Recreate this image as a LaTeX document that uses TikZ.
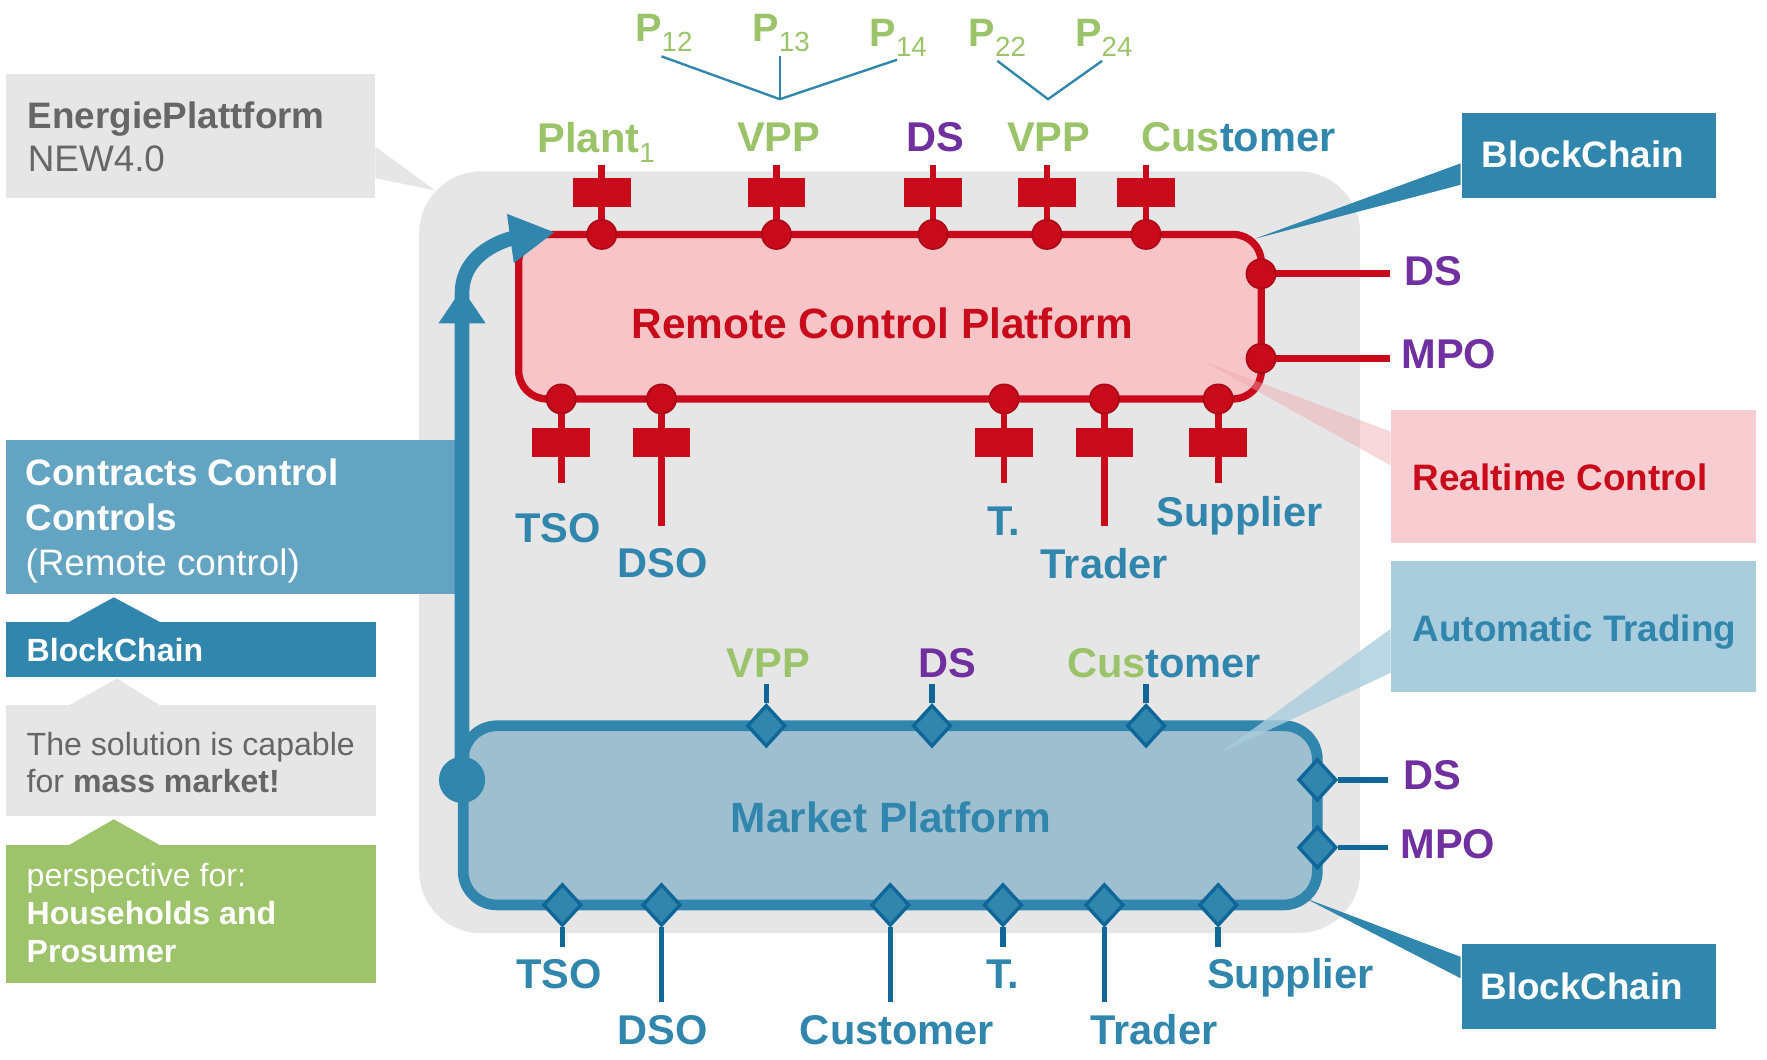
\documentclass[tikz,border=0pt]{standalone}
\usepackage{fontspec}
\setmainfont{Liberation Sans}
\usepackage{tikz}
\usetikzlibrary{shapes,positioning,calc}
\usetikzlibrary{shapes.geometric, arrows}
\usetikzlibrary{arrows.meta}

\definecolor{nblue}{HTML}{3186AD}
\definecolor{ndark}{HTML}{0E6699}
\definecolor{nmkt}{HTML}{9EBFD0}
\definecolor{ncontract}{HTML}{62A4C2}
\definecolor{nauto}{HTML}{A9CDDD}
\definecolor{nred}{HTML}{C80A1A}
\definecolor{npink}{HTML}{F7C4C8}
\definecolor{nrt}{HTML}{F7CDD1}
\definecolor{ngray}{HTML}{E6E6E6}
\definecolor{ntext}{HTML}{666666}
\definecolor{ngreen}{HTML}{9BC46A}
\definecolor{ngbox}{HTML}{9DC36B}
\definecolor{npurple}{HTML}{7030A0}

\tikzstyle{frame} = [rectangle, rounded corners=0.55cm, fill=ngray, minimum width=8.35cm, minimum height=6.76cm, inner sep=0pt]
\tikzstyle{box} = [rectangle, inner sep=0pt, outer sep=0pt]
\tikzstyle{platred} = [rectangle, rounded corners=0.25cm, minimum width=6.59cm, minimum height=1.46cm, draw=nred, fill=npink, line width=1.85pt, inner sep=0pt]
\tikzstyle{platblue} = [rectangle, rounded corners=0.3cm, minimum width=7.58cm, minimum height=1.59cm, draw=nblue, fill=nmkt, line width=2.7pt, inner sep=0pt]
\tikzstyle{rdot} = [circle, fill=nred, draw=nred!85!black, line width=0.4pt, minimum size=0.26cm, inner sep=0pt]
\tikzstyle{rsq} = [rectangle, fill=nred, minimum width=0.51cm, minimum height=0.26cm, inner sep=0pt]
\tikzstyle{rline} = [draw=nred, line width=1.7pt]
\tikzstyle{bdia} = [diamond, fill=nblue, draw=ndark, line width=0.85pt, minimum width=0.34cm, minimum height=0.37cm, inner sep=0pt]
\tikzstyle{bline} = [draw=ndark, line width=1.4pt]
\tikzstyle{pline} = [draw=nblue, line width=0.6pt]
\tikzstyle{lbl} = [font=\fontsize{10.5}{12}\selectfont\bfseries, inner sep=0pt, anchor=base]
\tikzstyle{lblw} = [font=\fontsize{10.5}{12}\selectfont\bfseries, inner sep=0pt, anchor=base west, text=npurple]
\tikzstyle{plbl} = [font=\fontsize{10}{12}\selectfont\bfseries, inner sep=0pt, anchor=base west, text=ngreen]
\tikzstyle{bigtext} = [font=\fontsize{10.7}{12}\selectfont\bfseries, inner sep=0pt, anchor=base]
\tikzstyle{boxtext} = [font=\fontsize{9.3}{10.8}\selectfont\bfseries, inner sep=0pt, anchor=base west]
\tikzstyle{smalltext} = [font=\fontsize{8.1}{9.4}\selectfont, inner sep=0pt, anchor=north west, align=left]
\tikzstyle{hub} = [circle, fill=nblue, minimum size=0.41cm, inner sep=0pt]
\tikzstyle{arrow} = [line width=3.7pt, draw=nblue, -{Triangle[length=0.40cm,width=0.41cm]}]

\newcommand{\psub}[1]{\raisebox{-0.09cm}{\fontsize{7}{8}\selectfont\mdseries #1}}

\begin{document}
\begin{tikzpicture}[y=-1cm]
	\useasboundingbox (0,0) rectangle (15.68,9.40);
	\node (frame) at (7.895,4.90) [frame] {};

	\node (epbox) at (1.69,1.21) [box, fill=ngray, minimum width=3.28cm, minimum height=1.10cm] {};
	\fill[ngray] (3.33,1.30) -- (3.86,1.69) -- (3.33,1.58) -- cycle;
	\node (eptxt) at (0.24,0.90) [smalltext, font=\fontsize{9.3}{10.81}\selectfont, text=ntext] {\textbf{EnergiePlattform}\\NEW4.0};

	\node (ccbox) at (2.05,4.585) [box, fill=ncontract, minimum width=4.00cm, minimum height=1.37cm] {};
	\node (cctxt) at (0.22,4.06) [smalltext, font=\fontsize{9.3}{11.38}\selectfont, text=white] {\textbf{Contracts Control}\\\textbf{Controls}\\(Remote control)};
	\node (bcleft) at (1.695,5.765) [box, fill=nblue, minimum width=3.29cm, minimum height=0.49cm] {};
	\fill[nblue] (0.61,5.52) -- (1.01,5.30) -- (1.42,5.52) -- cycle;
	\node (bclefttxt) at (0.23,5.87) [boxtext, font=\fontsize{8.1}{9.4}\selectfont\bfseries, text=white] {BlockChain};
	\node (massbox) at (1.695,6.75) [box, fill=ngray, minimum width=3.29cm, minimum height=0.98cm] {};
	\fill[ngray] (0.61,6.26) -- (1.04,6.02) -- (1.42,6.26) -- cycle;
	\node (masstxt) at (0.23,6.49) [smalltext, text=ntext] {The solution is capable\\for \textbf{mass market!}};
	\node (hhbox) at (1.695,8.11) [box, fill=ngbox, minimum width=3.29cm, minimum height=1.22cm] {};
	\fill[ngbox] (0.61,7.50) -- (1.01,7.27) -- (1.42,7.50) -- cycle;
	\node (hhtxt) at (0.23,7.65) [smalltext, font=\fontsize{8.1}{9.67}\selectfont, text=white] {perspective for:\\\textbf{Households and}\\\textbf{Prosumer}};

	\node (rcp) at (7.8975,2.81) [platred] {};
	\node (rcptxt) at (7.83,3.005) [bigtext, text=nred] {Remote Control Platform};
	\node (mkt) at (7.90,7.235) [platblue] {};
	\node (mkttxt) at (7.906,7.39) [bigtext, text=nblue] {Market Platform};

	\node (bctop) at (14.10,1.38) [box, fill=nblue, minimum width=2.26cm, minimum height=0.76cm] {};
	\fill[nblue] (12.96,1.45) -- (11.13,2.12) -- (12.96,1.64) -- cycle;
	\node (bctoptxt) at (13.14,1.49) [boxtext, text=white] {BlockChain};
	\node (bcbot) at (14.10,8.755) [box, fill=nblue, minimum width=2.26cm, minimum height=0.75cm] {};
	\fill[nblue] (12.96,8.49) -- (11.58,7.97) -- (12.96,8.68) -- cycle;
	\node (bcbottxt) at (13.13,8.87) [boxtext, text=white] {BlockChain};
	\node (rtbox) at (13.96,4.23) [box, fill=nrt, minimum width=3.24cm, minimum height=1.18cm] {};
	\fill[nrt!80!nred, opacity=0.45] (12.34,3.83) -- (10.69,3.21) -- (12.34,4.13) -- cycle;
	\node (rttxt) at (12.53,4.35) [boxtext, text=nred] {Realtime Control};
	\node (atbox) at (13.96,5.56) [box, fill=nauto, minimum width=3.24cm, minimum height=1.16cm] {};
	\fill[nauto, opacity=0.8] (12.34,5.58) -- (10.83,6.68) -- (12.34,5.97) -- cycle;
	\node (attxt) at (12.53,5.69) [boxtext, text=nblue] {Automatic Trading};

	\node (rt1) at (5.34,2.08) [rdot] {};
	\node (rts1) at (5.34,1.71) [rsq] {};
	\coordinate (rte1) at (5.34,1.46);
	\draw[rline] (rte1) -- (rt1);
	\node (rt2) at (6.89,2.08) [rdot] {};
	\node (rts2) at (6.89,1.71) [rsq] {};
	\coordinate (rte2) at (6.89,1.46);
	\draw[rline] (rte2) -- (rt2);
	\node (rt3) at (8.28,2.08) [rdot] {};
	\node (rts3) at (8.28,1.71) [rsq] {};
	\coordinate (rte3) at (8.28,1.46);
	\draw[rline] (rte3) -- (rt3);
	\node (rt4) at (9.29,2.08) [rdot] {};
	\node (rts4) at (9.29,1.71) [rsq] {};
	\coordinate (rte4) at (9.29,1.46);
	\draw[rline] (rte4) -- (rt4);
	\node (rt5) at (10.17,2.08) [rdot] {};
	\node (rts5) at (10.17,1.71) [rsq] {};
	\coordinate (rte5) at (10.17,1.46);
	\draw[rline] (rte5) -- (rt5);

	\node (rb1) at (4.98,3.54) [rdot] {};
	\node (rbs1) at (4.98,3.925) [rsq] {};
	\coordinate (rbe1) at (4.98,4.29);
	\draw[rline] (rb1) -- (rbe1);
	\node (rb2) at (5.87,3.54) [rdot] {};
	\node (rbs2) at (5.87,3.925) [rsq] {};
	\coordinate (rbe2) at (5.87,4.67);
	\draw[rline] (rb2) -- (rbe2);
	\node (rb3) at (8.91,3.54) [rdot] {};
	\node (rbs3) at (8.91,3.925) [rsq] {};
	\coordinate (rbe3) at (8.91,4.29);
	\draw[rline] (rb3) -- (rbe3);
	\node (rb4) at (9.80,3.54) [rdot] {};
	\node (rbs4) at (9.80,3.925) [rsq] {};
	\coordinate (rbe4) at (9.80,4.67);
	\draw[rline] (rb4) -- (rbe4);
	\node (rb5) at (10.81,3.54) [rdot] {};
	\node (rbs5) at (10.81,3.925) [rsq] {};
	\coordinate (rbe5) at (10.81,4.29);
	\draw[rline] (rb5) -- (rbe5);

	\node (rr1) at (11.19,2.43) [rdot] {};
	\coordinate (rre1) at (12.33,2.43);
	\draw[rline] (rr1) -- (rre1);
	\node (rr2) at (11.19,3.18) [rdot] {};
	\coordinate (rre2) at (12.33,3.18);
	\draw[rline] (rr2) -- (rre2);

	\node (bt1) at (6.80,6.44) [bdia] {};
	\coordinate (bte1) at (6.80,6.07);
	\draw[bline] (bte1) -- (bt1);
	\node (bt2) at (8.27,6.44) [bdia] {};
	\coordinate (bte2) at (8.27,6.07);
	\draw[bline] (bte2) -- (bt2);
	\node (bt3) at (10.17,6.44) [bdia] {};
	\coordinate (bte3) at (10.17,6.07);
	\draw[bline] (bte3) -- (bt3);

	\node (br1) at (11.69,6.92) [bdia] {};
	\coordinate (bre1) at (12.32,6.92);
	\draw[bline] (br1) -- (bre1);
	\node (br2) at (11.69,7.52) [bdia] {};
	\coordinate (bre2) at (12.32,7.52);
	\draw[bline] (br2) -- (bre2);

	\node (bb1) at (4.99,8.03) [bdia] {};
	\coordinate (bbe1) at (4.99,8.40);
	\draw[bline] (bb1) -- (bbe1);
	\node (bb2) at (5.87,8.03) [bdia] {};
	\coordinate (bbe2) at (5.87,8.89);
	\draw[bline] (bb2) -- (bbe2);
	\node (bb3) at (7.90,8.03) [bdia] {};
	\coordinate (bbe3) at (7.90,8.89);
	\draw[bline] (bb3) -- (bbe3);
	\node (bb4) at (8.90,8.03) [bdia] {};
	\coordinate (bbe4) at (8.90,8.40);
	\draw[bline] (bb4) -- (bbe4);
	\node (bb5) at (9.80,8.03) [bdia] {};
	\coordinate (bbe5) at (9.80,8.89);
	\draw[bline] (bb5) -- (bbe5);
	\node (bb6) at (10.81,8.03) [bdia] {};
	\coordinate (bbe6) at (10.81,8.40);
	\draw[bline] (bb6) -- (bbe6);

	\node (lrt1) at (5.29,1.35) [lbl, text=ngreen] {Plant\psub{1}};
	\node (lrt2) at (6.91,1.34) [lbl, text=ngreen] {VPP};
	\node (lrt3) at (8.30,1.34) [lbl, text=npurple] {DS};
	\node (lrt4) at (9.305,1.34) [lbl, text=ngreen] {VPP};
	\node (lrt5) at (10.99,1.34) [lbl] {\color{ngreen}Cus\color{nblue}tomer};
	\node (lrb1) at (4.95,4.81) [lbl, text=nblue] {TSO};
	\node (lrb2) at (5.88,5.12) [lbl, text=nblue] {DSO};
	\node (lrb3) at (8.91,4.75) [lbl, text=nblue] {T.};
	\node (lrb4) at (9.80,5.13) [lbl, text=nblue] {Trader};
	\node (lrb5) at (11.00,4.67) [lbl, text=nblue] {Supplier};
	\node (lrr1) at (12.46,2.53) [lblw] {DS};
	\node (lrr2) at (12.43,3.27) [lblw] {MPO};

	\node (lbt1) at (6.82,6.01) [lbl, text=ngreen] {VPP};
	\node (lbt2) at (8.41,6.01) [lbl, text=npurple] {DS};
	\node (lbt3) at (10.33,6.01) [lbl] {\color{ngreen}Cus\color{nblue}tomer};
	\node (lbr1) at (12.45,7.01) [lblw] {DS};
	\node (lbr2) at (12.42,7.62) [lblw] {MPO};
	\node (lbb1) at (4.96,8.77) [lbl, text=nblue] {TSO};
	\node (lbb2) at (5.88,9.27) [lbl, text=nblue] {DSO};
	\node (lbb3) at (7.96,9.27) [lbl, text=nblue] {Customer};
	\node (lbb4) at (8.90,8.77) [lbl, text=nblue] {T.};
	\node (lbb5) at (10.24,9.27) [lbl, text=nblue] {Trader};
	\node (lbb6) at (11.45,8.77) [lbl, text=nblue] {Supplier};

	\node (p12) at (5.63,0.37) [plbl] {P\psub{12}};
	\node (p13) at (6.67,0.37) [plbl] {P\psub{13}};
	\node (p14) at (7.71,0.41) [plbl] {P\psub{14}};
	\node (p22) at (8.59,0.41) [plbl] {P\psub{22}};
	\node (p24) at (9.535,0.41) [plbl] {P\psub{24}};
	\coordinate (vppa) at (6.92,0.88);
	\coordinate (vppb) at (9.30,0.88);
	\coordinate (p12e) at (5.87,0.50);
	\coordinate (p13e) at (6.92,0.50);
	\coordinate (p14e) at (7.96,0.53);
	\coordinate (p22e) at (8.85,0.54);
	\coordinate (p24e) at (9.78,0.54);
	\draw[pline] (p12e) -- (vppa) -- (p14e);
	\draw[pline] (p13e) -- (vppa);
	\draw[pline] (p22e) -- (vppb) -- (p24e);

	\node (hub) at (4.10,6.92) [hub] {};
	\coordinate (arrtip) at (4.925,2.06);
	\draw[arrow] (hub.center) -- (4.10,2.60) to[out=90,in=188] (arrtip);
	\fill[nblue] (3.89,2.87) -- (4.31,2.87) -- (4.10,2.56) -- cycle;
\end{tikzpicture}
\end{document}
